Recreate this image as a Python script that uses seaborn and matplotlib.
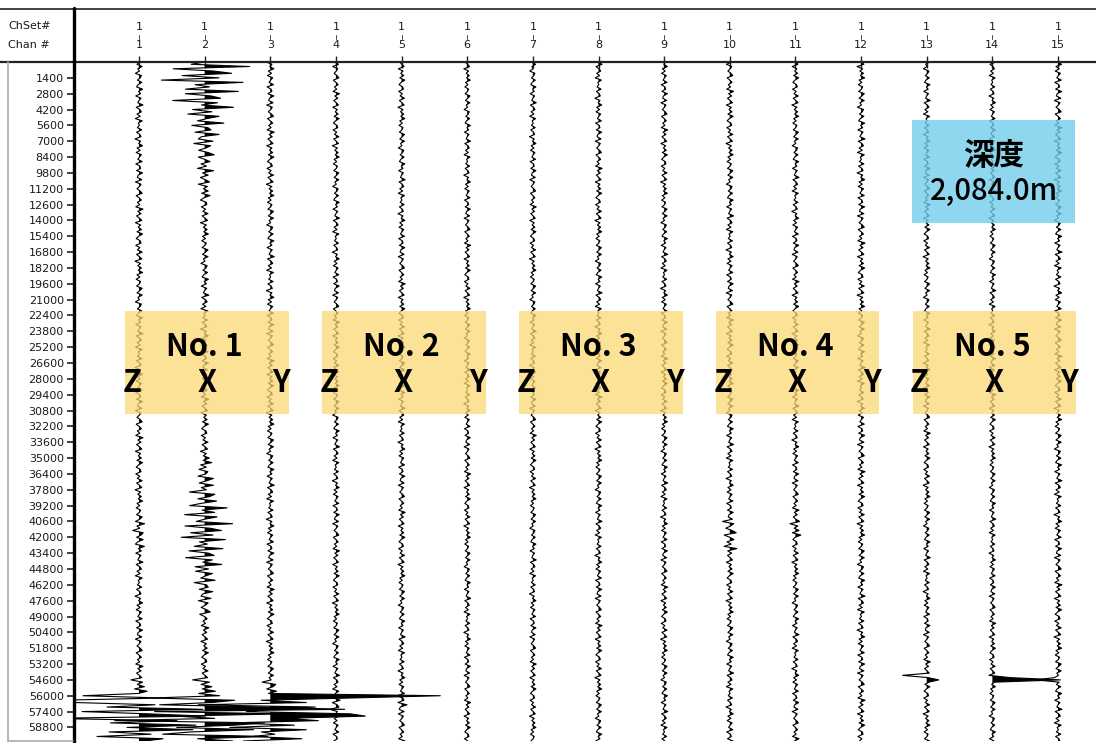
import numpy as np
import matplotlib
matplotlib.use("Agg")
import matplotlib.pyplot as plt
import matplotlib.transforms as mtransforms
from matplotlib.patches import Rectangle
from matplotlib.lines import Line2D
import seaborn as sns

# ---------------- data ----------------
CHANNELS = [1, 2, 3, 4, 5, 6, 7, 8, 9, 10, 11, 12, 13, 14, 15]
CHSET = [1, 1, 1, 1, 1, 1, 1, 1, 1, 1, 1, 1, 1, 1, 1]
DEPTH_TICKS = [1400, 2800, 4200, 5600, 7000, 8400, 9800, 11200, 12600, 14000,
               15400, 16800, 18200, 19600, 21000, 22400, 23800, 25200, 26600,
               28000, 29400, 30800, 32200, 33600, 35000, 36400, 37800, 39200,
               40600, 42000, 43400, 44800, 46200, 47600, 49000, 50400, 51800,
               53200, 54600, 56000, 57400, 58800]
# typical normalised wiggle shape
WIGGLE = [0.2, -0.5, 0.8, -0.3, 0.1, -0.9, 0.6, 0.3, -0.4, 0.7, -0.2, -0.6, 0.9,
          -0.1, 0.4, -0.8, 0.5, 0.0, -0.3, 1.0, -0.7, 0.2, 0.6, -0.5, 0.3, -0.9,
          0.8, -0.2, 0.1, -0.4, 0.7, -0.6, 0.2, 0.5, -1.0, 0.4, -0.1, 0.9, -0.5,
          0.3, -0.7, 0.6, 0.1, -0.3, 0.8, -0.8, 0.2, 0.4, -0.6, 0.9, -0.2, -0.4,
          0.7, -0.9, 0.5, 0.1, -0.5, 0.3, 0.8, -0.7, 0.0, 0.6, -0.4, 0.2, -0.8,
          1.0, -0.3, 0.5, -0.6, 0.1, 0.7, -0.9, 0.4, -0.2, 0.6, -0.5, 0.9, -0.1,
          -0.7, 0.3, 0.5, -0.8, 0.2, -0.4, 0.8, -0.6, 0.1, 0.7, -1.0, 0.4, -0.3,
          0.6, -0.2, 0.9, -0.5, 0.2, -0.7, 0.4, 0.1, -0.6, 0.8]
# quiet-trace amplitude per channel (pixels)
BASE_AMP = [4.0, 4.2, 4.0, 3.6, 3.6, 3.4, 3.4, 3.6, 3.6, 3.8, 3.6, 4.0, 3.6, 3.4, 4.0]
# (channel, 1400-bin index, amplitude px)
BURSTS = [(2, 0, 45), (2, 1, 48), (2, 2, 32), (2, 3, 24), (2, 4, 16), (2, 5, 12),
          (2, 6, 9), (2, 7, 7), (2, 8, 6),
          (2, 25, 8), (2, 26, 11), (2, 27, 17), (2, 28, 25), (2, 29, 28),
          (2, 30, 26), (2, 31, 19), (2, 32, 13), (2, 33, 9), (2, 34, 7),
          (1, 29, 7), (1, 30, 6), (10, 29, 8), (10, 30, 7), (11, 29, 6),
          (1, 39, 9), (1, 40, 80), (1, 41, 95), (1, 42, 60),
          (2, 39, 12), (2, 40, 75), (2, 41, 100), (2, 42, 70),
          (3, 39, 9), (3, 40, 90), (3, 41, 80), (3, 42, 45),
          (4, 40, 6), (5, 40, 6)]
# (channel, depth, amplitude px) single large excursions
SPIKES = [(13, 54250, -24), (13, 54600, 12), (14, 54400, 18), (14, 54600, 68),
          (15, 54600, -22), (3, 56050, 170), (3, 57750, 95), (1, 56400, -80),
          (2, 57300, 140)]
BOX_LABELS = ["No. 1", "No. 2", "No. 3", "No. 4", "No. 5"]
COMPONENTS = ["Z", "X", "Y"]
DEPTH_TITLE = "深度"
DEPTH_VALUE = "2,084.0m"

# ---------------- layout ----------------
W, H = 1096, 743
PX_PER_CH = 65.64
STEP = 200
YMAX = 60000

sns.set_theme(style="white")
plt.rcParams['font.family'] = ['DejaVu Sans']
BOXFONT = ["Noto Sans CJK JP", "DejaVu Sans"]

fig = plt.figure(figsize=(W / 100, H / 100), dpi=100)
ax_left = 73.5 / W
ax_top = 62 / H
ax_bot = 741 / H
ax = fig.add_axes([ax_left, 1 - ax_bot, 1 - ax_left, ax_bot - ax_top])

depth = np.arange(0, YMAX + STEP, STEP)
nW = len(WIGGLE)
burst = {(c, b): a for c, b, a in BURSTS}
for i, ch in enumerate(CHANNELS):
    amp = np.array([burst.get((ch, int(d // 1400)), BASE_AMP[i]) for d in depth])
    pat = np.array([WIGGLE[(k + 17 * i) % nW] for k in range(len(depth))])
    val = amp * pat
    for c, d, a in SPIKES:
        if c == ch:
            val[int(round(d / STEP))] = a
    xv = ch + val / PX_PER_CH
    ax.fill_betweenx(depth, ch, xv, where=xv > ch, interpolate=True,
                     color="black", lw=0, zorder=2)
    sns.lineplot(x=xv, y=depth, orient="y", sort=False, estimator=None,
                 color="black", lw=0.8, ax=ax, zorder=2)

ax.set_xlim(1 - (139 - 73.5) / PX_PER_CH, 15 + (1096 - 1058) / PX_PER_CH)
ax.set_ylim(YMAX, 0)
ax.set_xlabel("")
ax.set_ylabel("")
ax.set_yticks(DEPTH_TICKS)
ax.set_yticklabels([str(t) for t in DEPTH_TICKS], fontsize=8, color="#1a1a1a")
ax.tick_params(axis="y", left=True, length=5, width=1.2, pad=2, color="#222222")
ax.set_xticks(CHANNELS)
ax.tick_params(axis="x", top=True, bottom=False, labeltop=False, labelbottom=False,
               direction="inout", length=8, width=1.0, color="#222222")
for s in ["top", "right", "bottom", "left"]:
    ax.spines[s].set_visible(False)

# boxes
yel = "#FCD974"
for j, lab in enumerate(BOX_LABELS):
    c0 = CHANNELS[3 * j]
    c2 = CHANNELS[3 * j + 2]
    ax.add_patch(Rectangle((c0 - 0.21, 22000), (c2 + 0.28) - (c0 - 0.21), 9100,
                           facecolor=yel, alpha=0.75, lw=0, zorder=3))
    ax.text(c0 + 1.0, 25200, lab, ha="center", va="center", fontsize=22,
            fontweight="bold", family=BOXFONT, color="black", zorder=4)
    for k, comp, dx in zip(range(3), COMPONENTS, [-0.11, 0.03, 0.17]):
        ax.text(CHANNELS[3 * j + k] + dx, 28400, comp, ha="center", va="center",
                fontsize=22, fontweight="bold", family=BOXFONT, color="black",
                zorder=4)

ax.add_patch(Rectangle((13 - 0.23, 5120), 2.49, 9100, facecolor="#73CEEC",
                       alpha=0.8, lw=0, zorder=3))
ax.text(14.02, 8300, DEPTH_TITLE, ha="center", va="center", fontsize=22,
        fontweight="bold", family=BOXFONT, color="black", zorder=4)
ax.text(14.02, 11400, DEPTH_VALUE, ha="center", va="center", fontsize=21,
        fontweight="medium", family=BOXFONT, color="black", zorder=4)

# header
bt = mtransforms.blended_transform_factory(ax.transData, fig.transFigure)
for ch, cs in zip(CHANNELS, CHSET):
    ax.text(ch, 1 - 27 / H, str(cs), transform=bt, ha="center", va="center",
            fontsize=8, color="#1a1a1a", clip_on=False)
    ax.text(ch, 1 - 45 / H, str(ch), transform=bt, ha="center", va="center",
            fontsize=8, color="#1a1a1a", clip_on=False)
    ax.add_line(Line2D([ch, ch], [1 - 35 / H, 1 - 39 / H], transform=bt,
                       color="#444444", lw=0.7, clip_on=False))
fig.text(8 / W, 1 - 26 / H, "ChSet#", ha="left", va="center", fontsize=8, color="#1a1a1a")
fig.text(8 / W, 1 - 45 / H, "Chan #", ha="left", va="center", fontsize=8, color="#1a1a1a")

# frame lines
fig.add_artist(Line2D([0, 1], [1 - 8.5 / H, 1 - 8.5 / H], color="#333333", lw=1.3))
fig.add_artist(Line2D([0, 1], [1 - 62 / H, 1 - 62 / H], color="#222222", lw=1.6))
fig.add_artist(Line2D([73.5 / W, 73.5 / W], [1 - 8 / H, 1 - 742 / H], color="black", lw=2.4))
fig.add_artist(Line2D([8 / W, 8 / W], [1 - 62 / H, 1 - 741 / H], color="#aaaaaa", lw=1.2))
fig.add_artist(Line2D([8 / W, 73 / W], [1 - 741 / H, 1 - 741 / H], color="#aaaaaa", lw=1.2))

fig.savefig("out.png", dpi=100)
